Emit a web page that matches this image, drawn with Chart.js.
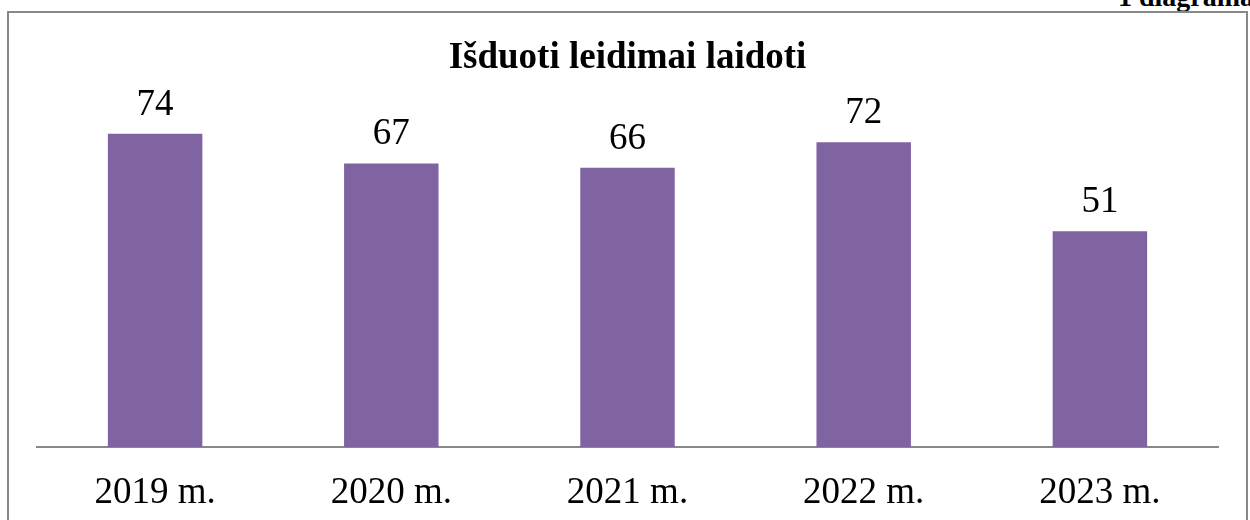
<!DOCTYPE html>
<html>
<head>
<meta charset="utf-8">
<script src="https://cdn.jsdelivr.net/npm/chart.js@4"></script>
<style>
  body { margin: 0; background: #fff; }
  #wrap { position: relative; width: 1250px; height: 520px; overflow: hidden; }
  #frame { position: absolute; left: 7px; top: 11px; width: 1237px; height: 530px; border: 2px solid #888; box-sizing: content-box; }
  #corner { position: absolute; left: 1118px; top: -19px; white-space: nowrap; line-height: 28px; font: bold 28px "Liberation Serif", "Times New Roman", serif; color: #000; }
  canvas { position: absolute; left: 0; top: 0; }
</style>
</head>
<body>
<div id="wrap">
  <div id="corner">1 diagrama</div>
  <div id="frame"></div>
  <canvas id="barchart" width="1250" height="520"></canvas>
</div>
<script>
const years = ["2019 m.", "2020 m.", "2021 m.", "2022 m.", "2023 m."];
const permits = [74, 67, 66, 72, 51];
const chartTitle = "Išduoti leidimai laidoti";

const serif = "'Liberation Serif', 'Times New Roman', serif";

// values above each bar
const valueLabels = {
  id: "valueLabels",
  afterDatasetsDraw(chart) {
    const ctx = chart.ctx;
    const meta = chart.getDatasetMeta(0);
    ctx.save();
    ctx.font = `37px ${serif}`;
    ctx.fillStyle = "#000";
    ctx.textAlign = "center";
    ctx.textBaseline = "alphabetic";
    meta.data.forEach((bar, i) => {
      ctx.fillText(String(permits[i]), bar.x, bar.y - 19);
    });
    ctx.restore();
  },
};

new Chart(document.getElementById("barchart"), {
  type: "bar",
  data: {
    labels: years,
    datasets: [
      {
        data: permits,
        backgroundColor: "#8064A2",
        categoryPercentage: 1,
        barPercentage: 0.4,
      },
    ],
  },
  options: {
    responsive: false,
    animation: false,
    layout: { padding: { left: 37, right: 32, top: 0, bottom: 0 } },
    plugins: {
      legend: { display: false },
      tooltip: { enabled: false },
      title: {
        display: true,
        text: chartTitle,
        color: "#000",
        font: { family: serif, size: 37, weight: "bold", lineHeight: 1.2 },
        padding: { top: 36, bottom: 28 },
      },
    },
    scales: {
      x: {
        grid: { display: false, drawTicks: false },
        border: { display: true, color: "#888", width: 2 },
        ticks: {
          color: "#000",
          padding: 24,
          font: { family: serif, size: 37 },
        },
        afterFit(scale) {
          scale.height = 73;
        },
      },
      y: {
        display: false,
        min: 0,
        max: 80,
      },
    },
  },
  plugins: [valueLabels],
});
</script>
</body>
</html>
